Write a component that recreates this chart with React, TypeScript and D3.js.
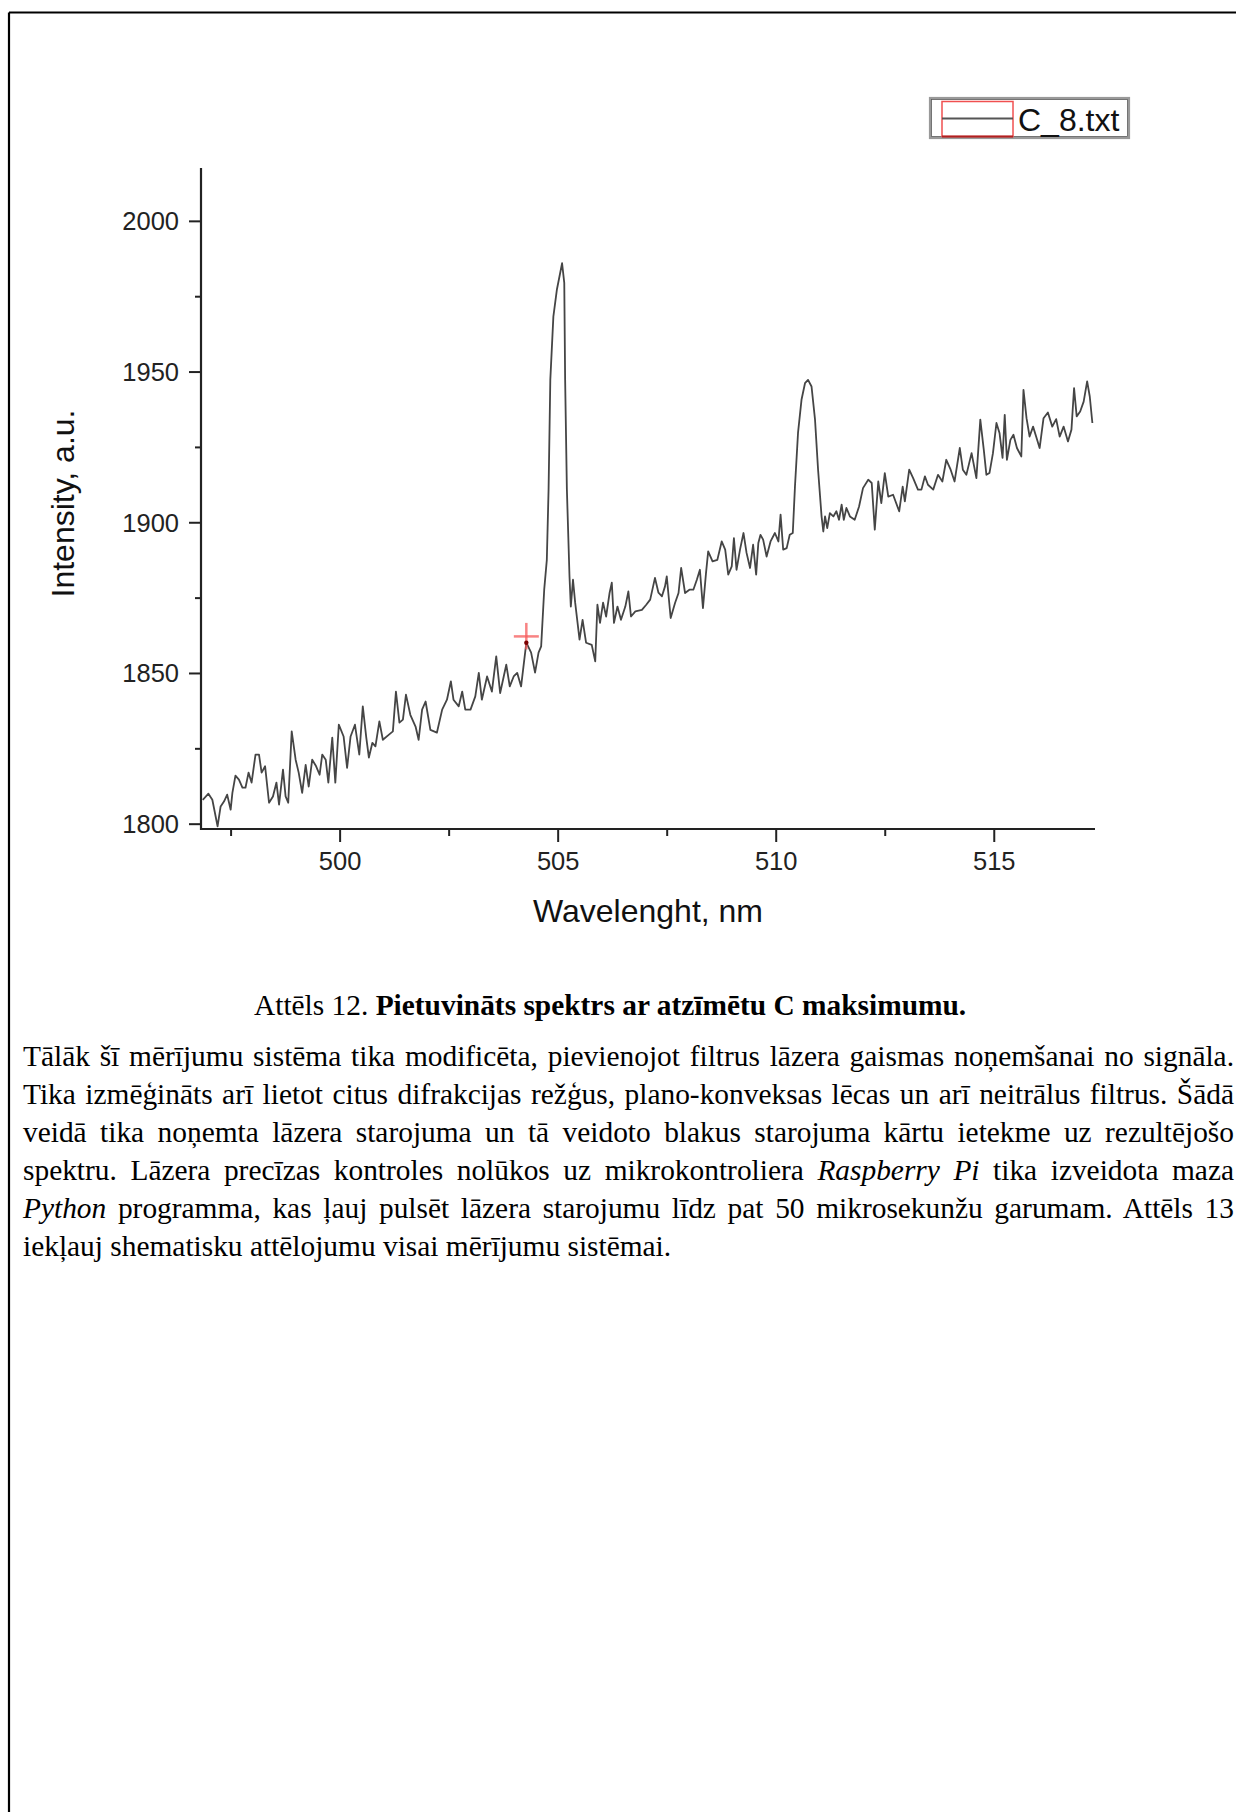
import React, { useLayoutEffect, useRef } from "react";
import * as d3 from "d3";

// ---- data ----
const wavelength = [
  496.85,496.98,497.07,497.19,497.26,497.34,497.41,497.49,497.53,497.60,
  497.68,497.76,497.83,497.90,497.97,498.06,498.14,498.20,498.28,498.37,
  498.46,498.54,498.60,498.69,498.75,498.81,498.89,498.98,499.05,499.13,
  499.21,499.28,499.36,499.45,499.53,499.59,499.67,499.73,499.82,499.89,
  499.97,500.08,500.16,500.24,500.34,500.44,500.52,500.60,500.66,500.74,
  500.81,500.90,500.98,501.12,501.21,501.28,501.36,501.44,501.51,501.61,
  501.73,501.80,501.88,501.96,502.07,502.22,502.34,502.45,502.54,502.60,
  502.72,502.80,502.87,502.99,503.10,503.18,503.25,503.37,503.48,503.58,
  503.67,503.81,503.89,503.98,504.06,504.15,504.27,504.38,504.47,504.55,
  504.61,504.68,504.74,504.78,504.82,504.89,504.97,505.09,505.14,505.16,
  505.20,505.26,505.29,505.34,505.39,505.49,505.56,505.64,505.77,505.85,
  505.90,505.96,506.03,506.10,506.18,506.23,506.28,506.36,506.44,506.54,
  506.61,506.67,506.77,506.92,507.02,507.11,507.22,507.30,507.38,507.45,
  507.49,507.58,507.68,507.76,507.82,507.91,508.01,508.10,508.18,508.25,
  508.32,508.39,508.44,508.54,508.65,508.75,508.83,508.90,508.98,509.03,
  509.09,509.17,509.25,509.32,509.40,509.47,509.54,509.59,509.64,509.70,
  509.78,509.87,509.97,510.05,510.10,510.16,510.24,510.31,510.38,510.43,
  510.50,510.58,510.66,510.73,510.81,510.89,510.96,511.04,511.08,511.12,
  511.17,511.23,511.31,511.38,511.44,511.50,511.55,511.61,511.69,511.80,
  511.90,511.99,512.11,512.19,512.26,512.34,512.41,512.49,512.57,512.68,
  512.82,512.90,512.95,513.05,513.14,513.25,513.33,513.41,513.48,513.60,
  513.71,513.81,513.90,514.00,514.09,514.21,514.28,514.36,514.48,514.59,
  514.68,514.76,514.82,514.89,514.97,515.05,515.12,515.19,515.24,515.29,
  515.37,515.44,515.52,515.62,515.67,515.74,515.81,515.89,515.96,516.04,
  516.13,516.23,516.33,516.42,516.50,516.59,516.69,516.77,516.83,516.89,
  516.97,517.05,517.13,517.19,517.25,
];

const intensity = [
  1808.1,1810.1,1808.1,1799.3,1805.9,1807.6,1809.8,1804.8,1810.4,1816.1,
  1814.8,1812.1,1812.1,1817.1,1813.8,1823.1,1823.1,1817.1,1819.2,1807.1,
  1809.2,1813.8,1806.5,1818.1,1809.2,1807.1,1830.8,1821.4,1817.1,1810.4,
  1819.7,1812.5,1821.4,1819.2,1816.4,1823.1,1821.4,1813.8,1828.7,1813.8,
  1833.0,1829.1,1818.7,1829.1,1833.0,1823.1,1839.1,1828.7,1822.1,1827.0,
  1825.8,1834.1,1828.0,1829.7,1830.8,1844.0,1833.7,1834.7,1843.0,1836.3,
  1832.4,1828.0,1838.0,1840.7,1831.3,1830.4,1838.0,1841.3,1847.4,1841.3,
  1839.1,1844.0,1838.0,1838.0,1842.4,1850.2,1841.3,1849.0,1844.0,1855.7,
  1843.5,1852.9,1845.7,1849.0,1850.2,1845.7,1860.2,1856.9,1850.3,1856.9,
  1859.0,1877.8,1887.7,1911.0,1947.4,1968.4,1977.3,1986.1,1979.6,1947.4,
  1911.0,1882.2,1872.2,1881.1,1873.5,1861.2,1867.8,1860.2,1859.5,1854.0,
  1872.8,1866.8,1873.5,1868.9,1876.8,1880.1,1866.8,1872.2,1867.8,1872.2,
  1877.2,1868.9,1870.6,1871.1,1872.8,1874.5,1881.7,1876.8,1875.6,1878.9,
  1882.2,1868.4,1873.4,1876.7,1885.0,1876.7,1877.8,1877.8,1881.1,1884.4,
  1871.7,1883.3,1890.5,1887.2,1887.7,1893.8,1891.1,1882.8,1885.5,1894.9,
  1884.4,1891.1,1896.6,1890.0,1885.0,1892.7,1882.8,1893.3,1896.0,1894.4,
  1888.8,1893.8,1896.6,1893.8,1902.7,1891.1,1891.6,1896.0,1896.6,1912.0,
  1929.8,1940.8,1946.3,1947.4,1945.2,1934.2,1917.6,1902.1,1897.1,1902.1,
  1898.2,1903.2,1902.1,1903.8,1901.0,1906.0,1901.0,1904.9,1902.1,1901.0,
  1905.4,1911.5,1914.3,1913.2,1897.7,1913.7,1906.5,1916.5,1908.7,1909.3,
  1903.8,1912.0,1907.1,1917.6,1914.8,1911.0,1911.0,1915.4,1912.6,1911.0,
  1915.9,1913.7,1920.9,1917.6,1913.7,1924.8,1917.6,1915.9,1923.1,1914.8,
  1934.2,1924.2,1915.9,1916.5,1923.1,1933.1,1929.8,1921.5,1935.8,1920.9,
  1927.5,1929.2,1924.8,1922.0,1944.1,1934.7,1928.6,1931.9,1928.6,1924.8,
  1934.7,1936.6,1931.9,1934.4,1928.6,1931.9,1927.0,1930.9,1944.7,1935.3,
  1936.9,1940.2,1946.9,1941.9,1933.1,
];

const markerWavelength = [504.27];
const markerIntensity = [1862.3];

const xMajorTicks = [500, 505, 510, 515];
const xMinorTicks = [497.5, 502.5, 507.5, 512.5];
const yMajorTicks = [1800, 1850, 1900, 1950, 2000];
const yMinorTicks = [1825, 1875, 1925, 1975];

const xDomain = [496.81, 517.31];
const yDomain = [1798.4, 2017.7];

const legendLabel = "C_8.txt";
const xTitle = "Wavelenght, nm";
const yTitle = "Intensity, a.u.";

const captionPrefix = "Attēls 12. ";
const captionBold = "Pietuvināts spektrs ar atzīmētu C maksimumu.";

type Seg = { t: string; i?: boolean };
const bodyLines: Seg[][] = [
  [{ t: "Tālāk šī mērījumu sistēma tika modificēta, pievienojot filtrus lāzera gaismas noņemšanai no signāla." }],
  [{ t: "Tika izmēģināts arī lietot citus difrakcijas režģus, plano-konveksas lēcas un arī neitrālus filtrus. Šādā" }],
  [{ t: "veidā tika noņemta lāzera starojuma un tā veidoto blakus starojuma kārtu ietekme uz rezultējošo" }],
  [
    { t: "spektru. Lāzera precīzas kontroles nolūkos uz mikrokontroliera " },
    { t: "Raspberry Pi", i: true },
    { t: " tika izveidota maza" },
  ],
  [
    { t: "Python", i: true },
    { t: " programma, kas ļauj pulsēt lāzera starojumu līdz pat 50 mikrosekunžu garumam. Attēls 13" },
  ],
  [{ t: "iekļauj shematisku attēlojumu visai mērījumu sistēmai." }],
];

export default function App() {
  const W = 1236;
  const H = 1812;
  const plot = { left: 201, right: 1095, top: 168, bottom: 829 };

  const x = d3.scaleLinear().domain(xDomain).range([plot.left, plot.right]);
  const y = d3.scaleLinear().domain(yDomain).range([plot.bottom, plot.top]);

  const pts = d3.zip(wavelength, intensity) as [number, number][];
  const linePath = d3
    .line<[number, number]>()
    .x((d) => x(d[0]))
    .y((d) => y(d[1]))(pts) as string;

  const bodyRefs = useRef<(SVGTextElement | null)[]>([]);
  const textLeft = 23;
  const textRight = 1234;

  useLayoutEffect(() => {
    bodyRefs.current.forEach((el, idx) => {
      if (!el) return;
      if (idx === bodyLines.length - 1) return;
      el.setAttribute("word-spacing", "0");
      const natural = el.getComputedTextLength();
      const text = bodyLines[idx].map((s) => s.t).join("");
      const spaces = (text.match(/ /g) || []).length;
      if (spaces > 0) {
        const extra = (textRight - textLeft - natural) / spaces;
        el.setAttribute("word-spacing", String(extra));
      }
    });
  }, []);

  const axisColor = "#222";
  const chartFont = "'Liberation Sans', Arial, Helvetica, sans-serif";
  const serif = "'Liberation Serif', 'Times New Roman', Times, serif";

  const mx = x(markerWavelength[0]);
  const my = y(markerIntensity[0]);

  return (
    <svg
      width={W}
      height={H}
      viewBox={`0 0 ${W} ${H}`}
      style={{ position: "absolute", left: 0, top: 0, background: "#fff" }}
    >
      <rect x={0} y={0} width={W} height={H} fill="#fff" />
      {/* page border */}
      <line x1={9} y1={12.5} x2={W} y2={12.5} stroke="#000" strokeWidth={2.2} />
      <line x1={9} y1={12.5} x2={9} y2={H} stroke="#000" strokeWidth={2.2} />

      {/* legend */}
      <g>
        <rect x={930} y={98} width={199} height={40} fill="#fff" stroke="#999" strokeWidth={2.2} />
        <rect x={931.5} y={99.5} width={196} height={37} fill="none" stroke="#555" strokeWidth={0.8} />
        <rect x={942} y={101.5} width={71} height={35} fill="none" stroke="#f05050" strokeWidth={1.5} />
        <line x1={942} y1={136.5} x2={1013} y2={136.5} stroke="#b02020" strokeWidth={2} />
        <line x1={942} y1={118.5} x2={1013} y2={118.5} stroke="#555" strokeWidth={2} />
        <text x={1018} y={131} fontFamily={chartFont} fontSize={32} fill="#111">
          {legendLabel}
        </text>
      </g>

      {/* data line */}
      <path d={linePath} fill="none" stroke="#454545" strokeWidth={1.8} strokeLinejoin="round" />

      {/* marker */}
      <g stroke="rgba(245,90,90,0.75)" strokeWidth={2.5}>
        <line x1={mx - 12.5} y1={my} x2={mx + 12.5} y2={my} />
        <line x1={mx} y1={my - 13.5} x2={mx} y2={my + 13} />
      </g>
      <circle cx={mx} cy={y(intensity[86])} r={2.2} fill="#7a0000" />

      {/* axes */}
      <line x1={plot.left} y1={plot.top} x2={plot.left} y2={plot.bottom + 1} stroke={axisColor} strokeWidth={2.2} />
      <line x1={plot.left - 1} y1={plot.bottom} x2={plot.right} y2={plot.bottom} stroke={axisColor} strokeWidth={2.2} />

      {yMajorTicks.map((v) => (
        <g key={"ym" + v}>
          <line x1={plot.left - 12} x2={plot.left} y1={y(v)} y2={y(v)} stroke={axisColor} strokeWidth={2} />
          <text
            x={179}
            y={y(v) + 9}
            textAnchor="end"
            fontFamily={chartFont}
            fontSize={25.5}
            fill="#222"
          >
            {v}
          </text>
        </g>
      ))}
      {yMinorTicks.map((v) => (
        <line key={"yn" + v} x1={plot.left - 6} x2={plot.left} y1={y(v)} y2={y(v)} stroke={axisColor} strokeWidth={2} />
      ))}
      {xMajorTicks.map((v) => (
        <g key={"xm" + v}>
          <line x1={x(v)} x2={x(v)} y1={plot.bottom} y2={plot.bottom + 13} stroke={axisColor} strokeWidth={2} />
          <text x={x(v)} y={870} textAnchor="middle" fontFamily={chartFont} fontSize={25.5} fill="#222">
            {v}
          </text>
        </g>
      ))}
      {xMinorTicks.map((v) => (
        <line key={"xn" + v} x1={x(v)} x2={x(v)} y1={plot.bottom} y2={plot.bottom + 7} stroke={axisColor} strokeWidth={2} />
      ))}

      <text
        x={(plot.left + plot.right) / 2}
        y={922}
        textAnchor="middle"
        fontFamily={chartFont}
        fontSize={32}
        fill="#111"
      >
        {xTitle}
      </text>
      <text
        transform={`translate(74, ${(plot.top + plot.bottom) / 2 + 5}) rotate(-90)`}
        textAnchor="middle"
        fontFamily={chartFont}
        fontSize={32}
        fill="#111"
      >
        {yTitle}
      </text>

      {/* caption */}
      <text x={254} y={1015} fontFamily={serif} fontSize={29.4} fill="#000">
        {captionPrefix}
        <tspan fontWeight="bold">{captionBold}</tspan>
      </text>

      {/* body text */}
      {bodyLines.map((segs, i) => (
        <text
          key={"b" + i}
          ref={(el) => {
            bodyRefs.current[i] = el;
          }}
          x={textLeft}
          y={1066 + i * 38}
          fontFamily={serif}
          fontSize={29.4}
          fill="#000"
          style={{ whiteSpace: "pre" }}
        >
          {segs.map((s, j) => (
            <tspan key={j} fontStyle={s.i ? "italic" : "normal"}>
              {s.t}
            </tspan>
          ))}
        </text>
      ))}
    </svg>
  );
}
